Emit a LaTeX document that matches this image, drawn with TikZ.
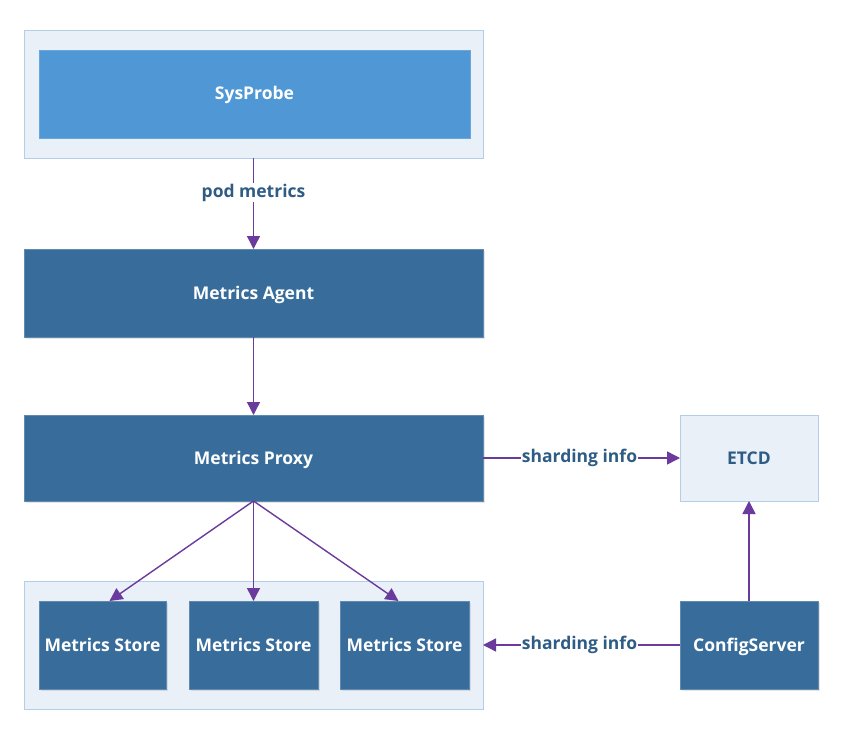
\documentclass[tikz,border=0pt]{standalone}
\usepackage{fontspec}
\setmainfont{Open Sans}
\usetikzlibrary{arrows.meta,shadows}
\definecolor{darkbox}{HTML}{386D9B}
\definecolor{probebox}{HTML}{4F98D5}
\definecolor{lightfill}{HTML}{EAF0F8}
\definecolor{lightborder}{HTML}{B3CDEB}
\definecolor{arrowc}{HTML}{6A3A9C}
\definecolor{labelc}{HTML}{2F5C85}
\tikzset{
  container/.style={draw=lightborder, fill=lightfill, line width=0.8pt, inner sep=0pt, outer sep=0pt},
  boxtext/.style={font=\fontsize{17.5}{20}\selectfont\bfseries, text height=13pt, text depth=1pt},
  darkb/.style={fill=darkbox, draw=darkbox!80!white, line width=0.5pt, text=white, inner sep=0pt, outer sep=0pt, boxtext, drop shadow={shadow xshift=1.5pt, shadow yshift=-1.5pt, opacity=0.2}},
  probeb/.style={fill=probebox, draw=probebox!85!white, line width=0.5pt, text=white, inner sep=0pt, outer sep=0pt, boxtext},
  lightb/.style={container, text=labelc, boxtext},
  flow/.style={draw=arrowc, line width=1.4pt, -{Triangle[length=13pt,width=13pt]}},
  lab/.style={fill=white, text=labelc, inner sep=1pt, font=\fontsize{17.5}{20}\selectfont\bfseries},
}
\begin{document}
\begin{tikzpicture}[x=1pt,y=-1pt]
\useasboundingbox[fill=white] (0,0) rectangle (843,741);
% containers
\node[container, minimum width=459pt, minimum height=128pt] (probecont) at (253.5,94) {};
\node[container, minimum width=459pt, minimum height=128pt] (storecont) at (253.5,645) {};
% boxes
\node[probeb, minimum width=431pt, minimum height=88pt] (probe) at (254.5,94) {SysProbe};
\node[darkb, minimum width=459pt, minimum height=88pt] (agent) at (253.5,293) {Metrics Agent};
\node[darkb, minimum width=459pt, minimum height=86pt] (proxy) at (253.5,458) {Metrics Proxy};
\node[lightb, minimum width=138pt, minimum height=86pt] (etcd) at (749,458) {ETCD};
\node[darkb, minimum width=138pt, minimum height=88pt] (config) at (749,645) {ConfigServer};
\node[darkb, minimum width=127pt, minimum height=88pt] (s1) at (102.5,645) {Metrics Store};
\node[darkb, minimum width=129pt, minimum height=88pt] (s2) at (253.5,645) {Metrics Store};
\node[darkb, minimum width=129pt, minimum height=88pt] (s3) at (404.5,645) {Metrics Store};
% connectors
\draw[flow] (probecont.south -| agent.north) -- node[lab, pos=0.38] {pod metrics} (agent.north);
\draw[flow] (agent.south) -- (proxy.north);
\draw[flow] (proxy.south) -- ([xshift=7pt]s1.north);
\draw[flow] (proxy.south) -- (s2.north);
\draw[flow] (proxy.south) -- ([xshift=-6pt]s3.north);
\draw[flow] (proxy.east) -- node[lab, pos=0.49] {sharding info} (etcd.west);
\draw[flow] (config.north) -- (etcd.south);
\draw[flow] (config.west) -- node[lab, pos=0.51] {sharding info} (storecont.east);
\end{tikzpicture}
\end{document}
